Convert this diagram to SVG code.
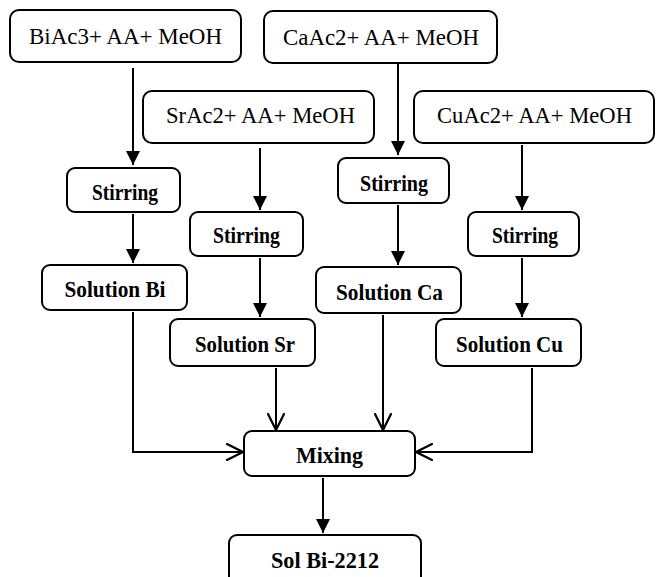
<svg xmlns="http://www.w3.org/2000/svg" width="656" height="577" viewBox="0 0 656 577">
<style>
.box{fill:#fff;stroke:#000;stroke-width:2}
text{font-family:'Liberation Serif','DejaVu Serif',serif;font-size:24px;fill:#000;text-anchor:middle}
.b{font-weight:bold}
.ln{fill:none;stroke:#000;stroke-width:2}
</style>
<defs>
<marker id="fa" markerUnits="userSpaceOnUse" markerWidth="14" markerHeight="14" refX="12" refY="6" orient="auto" viewBox="0 0 12 12">
<path d="M0,0 L12,6 L0,12 Z" fill="#000"/>
</marker>
<marker id="oa" markerUnits="userSpaceOnUse" markerWidth="18" markerHeight="18" refX="15" refY="8" orient="auto" viewBox="0 0 16 16">
<path d="M0,0.5 L15,8 L0,15.5" fill="none" stroke="#000" stroke-width="2"/>
</marker>
</defs>
<rect width="656" height="577" fill="#fff"/>
<g id="connectors">
<line class="ln" x1="133" y1="68" x2="133" y2="165" marker-end="url(#fa)"/>
<line class="ln" x1="260" y1="148" x2="260" y2="210" marker-end="url(#fa)"/>
<line class="ln" x1="398" y1="64" x2="398" y2="155" marker-end="url(#fa)"/>
<line class="ln" x1="522" y1="145" x2="522" y2="210" marker-end="url(#fa)"/>
<line class="ln" x1="133" y1="214" x2="133" y2="263" marker-end="url(#fa)"/>
<line class="ln" x1="260" y1="258" x2="260" y2="317" marker-end="url(#fa)"/>
<line class="ln" x1="398" y1="205" x2="398" y2="265" marker-end="url(#fa)"/>
<line class="ln" x1="522" y1="258" x2="522" y2="317" marker-end="url(#fa)"/>
<polyline class="ln" points="133,312 133,452 243,452" marker-end="url(#oa)"/>
<line class="ln" x1="276" y1="368" x2="276" y2="430" marker-end="url(#oa)"/>
<line class="ln" x1="383" y1="315" x2="383" y2="430" marker-end="url(#oa)"/>
<polyline class="ln" points="532,368 532,452 416,452" marker-end="url(#oa)"/>
<line class="ln" x1="323" y1="478" x2="323" y2="533" marker-end="url(#fa)"/>
</g>
<g id="biac">
<rect class="box" x="10" y="10" width="231" height="52" rx="9"/>
<text x="125.5" y="44" textLength="193" lengthAdjust="spacingAndGlyphs">BiAc3+ AA+ MeOH</text>
</g>
<g id="caac">
<rect class="box" x="264" y="11" width="233" height="52" rx="9"/>
<text x="381" y="45" textLength="196" lengthAdjust="spacingAndGlyphs">CaAc2+ AA+ MeOH</text>
</g>
<g id="srac">
<rect class="box" x="143" y="91" width="231" height="52" rx="9"/>
<text x="260.5" y="123" textLength="189" lengthAdjust="spacingAndGlyphs">SrAc2+ AA+ MeOH</text>
</g>
<g id="cuac">
<rect class="box" x="414" y="91" width="240" height="52" rx="9"/>
<text x="534.5" y="123" textLength="195" lengthAdjust="spacingAndGlyphs">CuAc2+ AA+ MeOH</text>
</g>
<g id="stir-bi">
<rect class="box" x="67" y="168" width="113" height="44" rx="8"/>
<text class="b" x="125" y="200" textLength="66" lengthAdjust="spacingAndGlyphs">Stirring</text>
</g>
<g id="stir-sr">
<rect class="box" x="190" y="212" width="113" height="44" rx="8"/>
<text class="b" x="246.5" y="243" textLength="67" lengthAdjust="spacingAndGlyphs">Stirring</text>
</g>
<g id="stir-ca">
<rect class="box" x="338" y="158" width="111" height="45" rx="8"/>
<text class="b" x="394" y="191" textLength="68" lengthAdjust="spacingAndGlyphs">Stirring</text>
</g>
<g id="stir-cu">
<rect class="box" x="468" y="212" width="111" height="44" rx="8"/>
<text class="b" x="525" y="243" textLength="66" lengthAdjust="spacingAndGlyphs">Stirring</text>
</g>
<g id="sol-bi">
<rect class="box" x="42" y="265" width="145" height="45" rx="8"/>
<text class="b" x="115" y="297" textLength="101" lengthAdjust="spacingAndGlyphs">Solution Bi</text>
</g>
<g id="sol-sr">
<rect class="box" x="170" y="319" width="145" height="47" rx="8"/>
<text class="b" x="245" y="352" textLength="100" lengthAdjust="spacingAndGlyphs">Solution Sr</text>
</g>
<g id="sol-ca">
<rect class="box" x="316" y="267" width="145" height="46" rx="8"/>
<text class="b" x="389.5" y="300" textLength="107" lengthAdjust="spacingAndGlyphs">Solution Ca</text>
</g>
<g id="sol-cu">
<rect class="box" x="436" y="319" width="145" height="47" rx="8"/>
<text class="b" x="509.5" y="352" textLength="107" lengthAdjust="spacingAndGlyphs">Solution Cu</text>
</g>
<g id="mixing">
<rect class="box" x="244" y="431" width="171" height="45" rx="8"/>
<text class="b" x="329.5" y="463" textLength="67" lengthAdjust="spacingAndGlyphs">Mixing</text>
</g>
<g id="sol-bi2212">
<rect class="box" x="229" y="535" width="192" height="50" rx="8"/>
<text class="b" x="325" y="568" textLength="108" lengthAdjust="spacingAndGlyphs">Sol Bi-2212</text>
</g>
</svg>
